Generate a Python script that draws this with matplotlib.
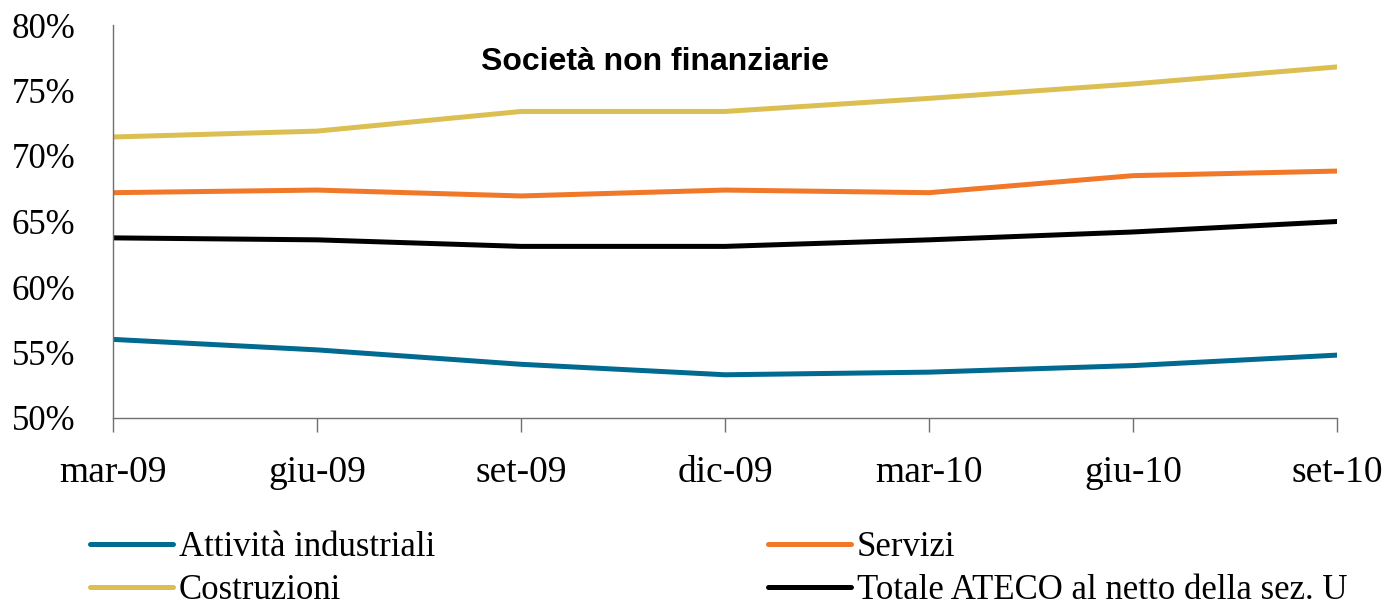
import matplotlib.pyplot as plt
from matplotlib.ticker import FuncFormatter

periodi = ['mar-09', 'giu-09', 'set-09', 'dic-09', 'mar-10', 'giu-10', 'set-10']

industria = [56.0, 55.2, 54.1, 53.3, 53.5, 54.0, 54.8]
servizi = [67.2, 67.4, 66.95, 67.4, 67.2, 68.5, 68.85]
costruzioni = [71.45, 71.9, 73.4, 73.4, 74.4, 75.5, 76.8]
totale = [63.75, 63.6, 63.1, 63.1, 63.6, 64.2, 65.0]

nomi = ['Attività industriali', 'Servizi', 'Costruzioni',
        'Totale ATECO al netto della sez. U']
colori = ['#006a91', '#f07828', '#dcbf52', '#000000']

serif = 'Liberation Serif'

fig = plt.figure(figsize=(13.85, 6.11), dpi=100)
ax = fig.add_axes([113 / 1385, 1 - 418 / 611, (1337 - 113) / 1385, (418 - 25) / 611])

x = range(len(periodi))
linee = []
for serie, nome, col in zip([industria, servizi, costruzioni, totale], nomi, colori):
    l, = ax.plot(x, serie, color=col, lw=3.6, solid_capstyle='round', label=nome)
    linee.append(l)

ax.set_xlim(0, len(periodi) - 1)
ax.set_ylim(50, 80)
ax.set_yticks(range(50, 81, 5))
ax.yaxis.set_major_formatter(FuncFormatter(lambda v, p: f'{v:.0f}%'))
ax.set_xticks(list(x))
ax.set_xticklabels(periodi)

for s in ['top', 'right']:
    ax.spines[s].set_visible(False)
for s in ['left', 'bottom']:
    ax.spines[s].set_color('#707070')
    ax.spines[s].set_linewidth(1.0)
ax.spines['bottom'].set_zorder(0)

ax.tick_params(axis='y', length=0, pad=27, labelsize=25)
ax.tick_params(axis='x', length=10, width=1, color='#707070', pad=17, labelsize=27)
for lab in ax.get_xticklabels() + ax.get_yticklabels():
    lab.set_fontfamily(serif)

ax.text(0.443, 0.907, 'Società non finanziarie', transform=ax.transAxes,
        ha='center', va='center', fontsize=23, fontweight='bold',
        fontfamily='Liberation Sans')

leg_kw = dict(frameon=False, prop={'family': serif, 'size': 25}, handlelength=2.4,
              handletextpad=0.15, labelspacing=0.3, borderpad=0, borderaxespad=0,
              loc='upper left')
fig.legend([linee[0], linee[2]], [nomi[0], nomi[2]],
           bbox_to_anchor=(90 / 1385, 1 - 531 / 611), **leg_kw)
fig.legend([linee[1], linee[3]], [nomi[1], nomi[3]],
           bbox_to_anchor=(768 / 1385, 1 - 531 / 611), **leg_kw)

fig.savefig('out.png', dpi=100)
